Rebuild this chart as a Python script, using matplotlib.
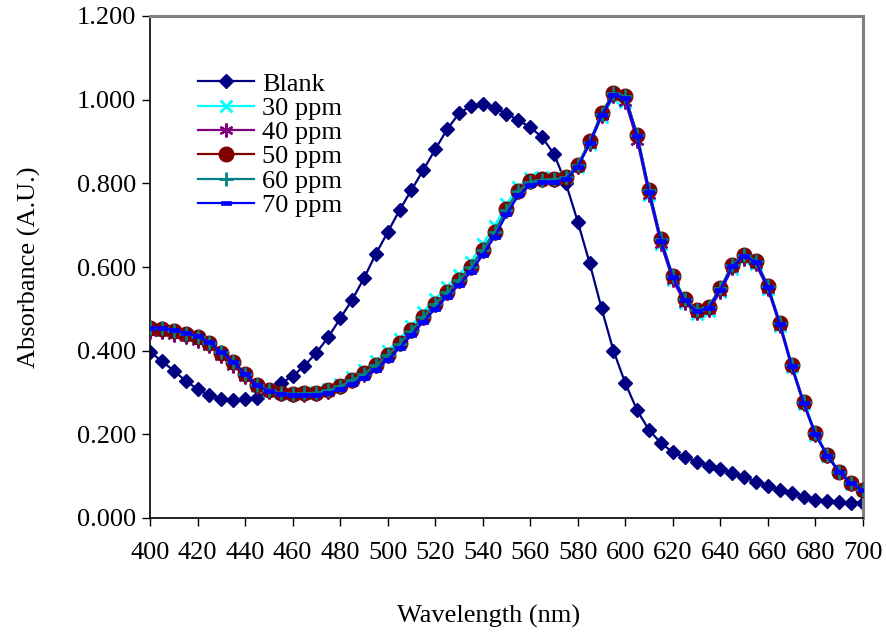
import matplotlib
matplotlib.use("Agg")
import matplotlib.pyplot as plt
import numpy as np
from matplotlib.path import Path

wavelength = list(range(400, 701, 5))

blank = [0.397, 0.375, 0.352, 0.328, 0.308, 0.294, 0.284, 0.282, 0.284, 0.288,
         0.306, 0.322, 0.339, 0.364, 0.395, 0.432, 0.477, 0.521, 0.573, 0.631,
         0.683, 0.736, 0.784, 0.832, 0.881, 0.929, 0.967, 0.985, 0.990, 0.981,
         0.966, 0.951, 0.934, 0.910, 0.870, 0.800, 0.708, 0.609, 0.501, 0.400,
         0.322, 0.257, 0.210, 0.179, 0.157, 0.145, 0.135, 0.124, 0.116, 0.107,
         0.097, 0.087, 0.077, 0.067, 0.059, 0.051, 0.044, 0.040, 0.038, 0.037, 0.036]

ppm30 = [0.450, 0.450, 0.444, 0.438, 0.430, 0.416, 0.393, 0.370, 0.343, 0.316,
         0.304, 0.298, 0.296, 0.298, 0.301, 0.308, 0.320, 0.336, 0.354, 0.376,
         0.400, 0.428, 0.460, 0.493, 0.524, 0.553, 0.582, 0.613, 0.655, 0.698,
         0.750, 0.792, 0.812, 0.814, 0.813, 0.815, 0.840, 0.893, 0.958, 1.004,
         0.995, 0.905, 0.772, 0.655, 0.568, 0.514, 0.488, 0.496, 0.540, 0.596,
         0.620, 0.607, 0.548, 0.460, 0.360, 0.273, 0.198, 0.148, 0.109, 0.082, 0.066]

ppm40 = [0.445, 0.444, 0.438, 0.432, 0.424, 0.410, 0.387, 0.364, 0.338, 0.312,
         0.301, 0.296, 0.294, 0.295, 0.297, 0.302, 0.313, 0.327, 0.343, 0.363,
         0.387, 0.415, 0.446, 0.478, 0.509, 0.538, 0.566, 0.597, 0.638, 0.681,
         0.735, 0.779, 0.802, 0.807, 0.808, 0.812, 0.840, 0.894, 0.960, 1.008,
         0.995, 0.902, 0.772, 0.655, 0.569, 0.515, 0.490, 0.497, 0.541, 0.597,
         0.620, 0.606, 0.547, 0.460, 0.360, 0.273, 0.198, 0.148, 0.109, 0.082, 0.066]

ppm50 = [0.453, 0.452, 0.446, 0.440, 0.432, 0.418, 0.395, 0.372, 0.345, 0.318,
         0.306, 0.300, 0.297, 0.298, 0.300, 0.305, 0.316, 0.330, 0.346, 0.366,
         0.390, 0.418, 0.449, 0.481, 0.512, 0.541, 0.569, 0.600, 0.641, 0.684,
         0.738, 0.782, 0.805, 0.810, 0.811, 0.815, 0.844, 0.900, 0.967, 1.017,
         1.009, 0.916, 0.784, 0.666, 0.578, 0.523, 0.497, 0.505, 0.549, 0.605,
         0.629, 0.615, 0.555, 0.467, 0.366, 0.278, 0.202, 0.151, 0.111, 0.084, 0.067]

ppm60 = [0.454, 0.453, 0.447, 0.441, 0.433, 0.419, 0.396, 0.372, 0.345, 0.318,
         0.305, 0.299, 0.297, 0.298, 0.300, 0.305, 0.315, 0.329, 0.345, 0.365,
         0.389, 0.417, 0.448, 0.480, 0.511, 0.540, 0.568, 0.599, 0.640, 0.683,
         0.737, 0.781, 0.804, 0.809, 0.810, 0.814, 0.844, 0.899, 0.966, 1.016,
         1.008, 0.916, 0.784, 0.666, 0.578, 0.523, 0.497, 0.505, 0.549, 0.605,
         0.629, 0.615, 0.555, 0.467, 0.366, 0.278, 0.202, 0.151, 0.111, 0.084, 0.067]

ppm70 = [0.455, 0.455, 0.449, 0.443, 0.434, 0.420, 0.397, 0.373, 0.345, 0.317,
         0.303, 0.297, 0.294, 0.294, 0.295, 0.299, 0.308, 0.320, 0.335, 0.354,
         0.378, 0.406, 0.437, 0.469, 0.500, 0.529, 0.557, 0.588, 0.629, 0.672,
         0.726, 0.771, 0.796, 0.802, 0.804, 0.810, 0.840, 0.896, 0.963, 1.012,
         1.004, 0.912, 0.780, 0.662, 0.575, 0.520, 0.494, 0.502, 0.546, 0.602,
         0.626, 0.612, 0.552, 0.464, 0.364, 0.276, 0.200, 0.149, 0.110, 0.083, 0.066]

series_labels = ["Blank", "30 ppm", "40 ppm", "50 ppm", "60 ppm", "70 ppm"]
x_ticks = list(range(400, 701, 20))
y_ticks = [0.0, 0.2, 0.4, 0.6, 0.8, 1.0, 1.2]

plt.rcParams['font.family'] = ['Liberation Serif', 'DejaVu Serif']

fig = plt.figure(figsize=(8.87, 6.41), dpi=100)
ax = fig.add_axes([150/887, 1-518/641, (863-150)/887, (518-16)/641])

dash_marker = Path([(-1, -0.45), (1, -0.45), (1, 0.45), (-1, 0.45), (-1, -0.45)],
                   [Path.MOVETO, Path.LINETO, Path.LINETO, Path.LINETO, Path.CLOSEPOLY])

lw = 1.6
ax.plot(wavelength, blank, color='#000080', lw=lw, marker='D', ms=6.8,
        mfc='#000080', mec='#000080', label=series_labels[0], zorder=2)
ax.plot(wavelength, ppm30, color='#00FFFF', lw=lw, marker='x', ms=8.5, mew=2.0,
        mec='#00FFFF', label=series_labels[1], zorder=3)
ax.plot(wavelength, ppm40, color='#800080', lw=lw, marker=(6, 2, 0), ms=10, mew=1.6,
        mec='#800080', label=series_labels[2], zorder=4)
ax.plot(wavelength, ppm50, color='#800000', lw=lw, marker='o', ms=10.5,
        mfc='#800000', mec='#800000', label=series_labels[3], zorder=5)
ax.plot(wavelength, ppm60, color='#008080', lw=lw, marker='+', ms=10, mew=2.0,
        mec='#008080', label=series_labels[4], zorder=6)
ax.plot(wavelength, ppm70, color='#0000FF', lw=lw, marker=dash_marker, ms=7.5,
        mfc='#0000FF', mec='#0000FF', mew=0.5, label=series_labels[5], zorder=7)

ax.set_xlim(400, 700)
ax.set_ylim(0, 1.2)
ax.set_xticks(x_ticks)
ax.set_xticklabels([str(v) for v in x_ticks])
ax.set_yticks(y_ticks)
ax.set_yticklabels([f"{v:.3f}" for v in y_ticks])
ax.tick_params(axis='both', direction='out', length=6, width=1, labelsize=19,
               color='black')
ax.tick_params(axis='x', pad=11)
ax.tick_params(axis='y', pad=4)

for s in ['left', 'bottom']:
    ax.spines[s].set_color('black')
    ax.spines[s].set_linewidth(1.2)
for s in ['top', 'right']:
    ax.spines[s].set_color('#808080')
    ax.spines[s].set_linewidth(2.2)

fig.text(489/887, 1-616/641, "Wavelength (nm)", fontsize=19, ha='center', va='center')
ax.set_ylabel("Absorbance (A.U.)", fontsize=19, labelpad=26)

leg = ax.legend(loc='upper left', bbox_to_anchor=(0.068, 0.888), frameon=False,
                fontsize=19, handlelength=2.1, handletextpad=0.3,
                labelspacing=0.03, borderpad=0, borderaxespad=0)

fig.savefig("out.png", dpi=100)
